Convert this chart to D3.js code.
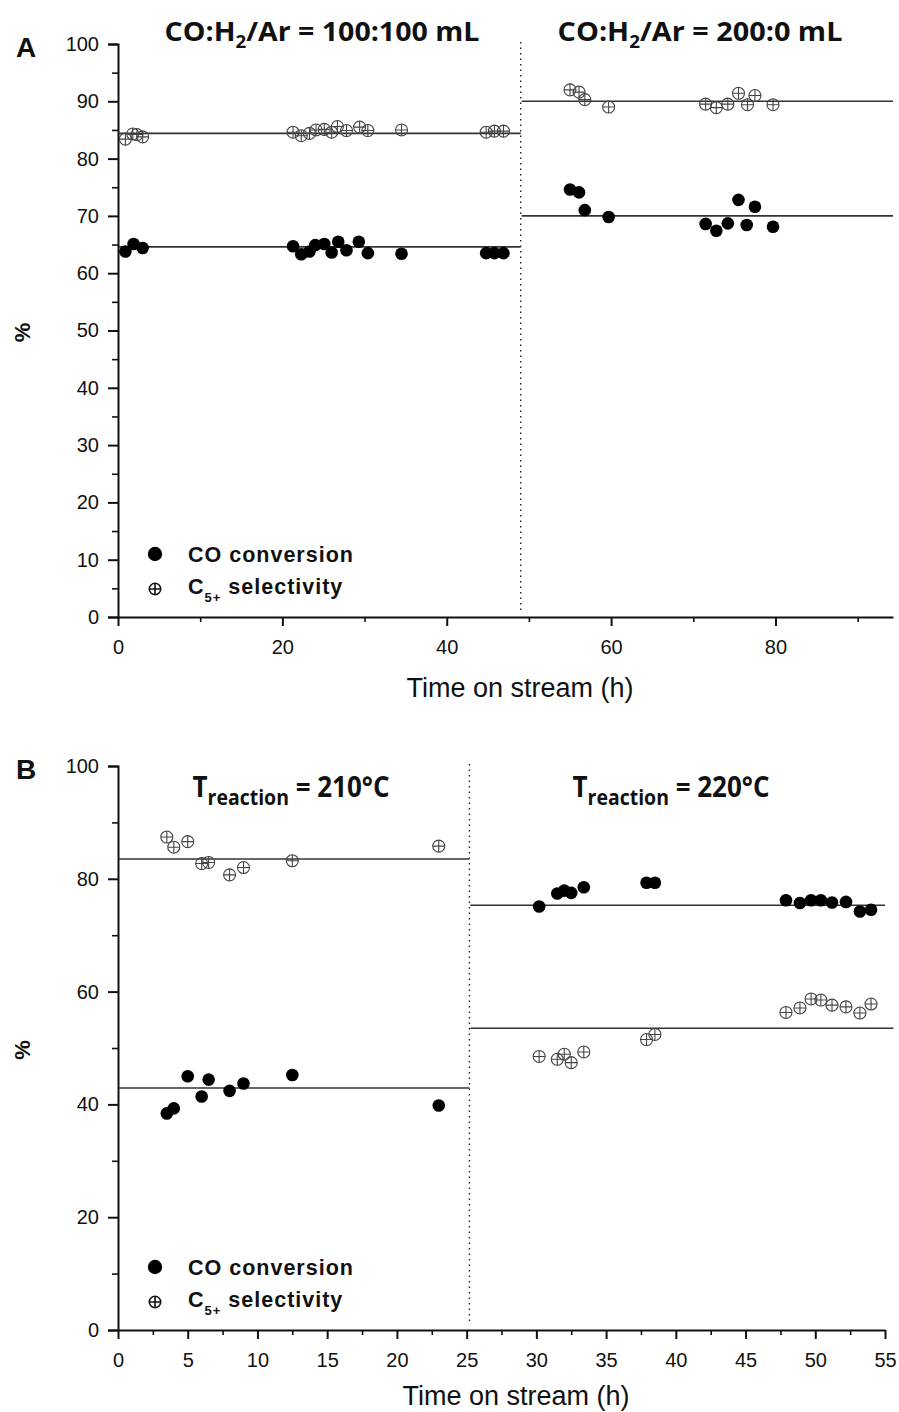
<!DOCTYPE html>
<html lang="en">
<head>
<meta charset="UTF-8">
<title>CO conversion and C5+ selectivity</title>
<script src="https://cdnjs.cloudflare.com/ajax/libs/d3/7.8.4/d3.min.js"></script>
<style>
  body { margin: 0; background: #fff; }
  .tick text { font-family: "Liberation Sans", Arial, sans-serif; font-size: 20px; fill: #111; }
  .axis path, .axis line { stroke: #111; stroke-width: 2; }
  .minor line { stroke: #111; stroke-width: 1.6; }
  .minor path { display: none; }
  .lab { font-family: "Liberation Sans", Arial, sans-serif; fill: #111; }
  .ttl { font-family: "Open Sans", "DejaVu Sans", sans-serif; font-weight: 700; fill: #111; }
</style>
</head>
<body>
<div id="chart"></div>
<script>
// ---- panel A : CO:H2/Ar switch ----
const timeA_co = [0.9, 1.9, 3.0, 21.3, 22.3, 23.3, 24.0, 25.1, 26.0, 26.8, 27.8, 29.3, 30.4, 34.5, 44.8, 45.8, 46.9,
                  55.0, 56.1, 56.8, 59.7, 71.5, 72.8, 74.2, 75.5, 76.5, 77.5, 79.7];
const coA = [63.8, 65.1, 64.4, 64.7, 63.3, 63.8, 64.9, 65.1, 63.6, 65.5, 64.0, 65.5, 63.5, 63.4, 63.5, 63.5, 63.5,
             74.6, 74.1, 71.0, 69.8, 68.6, 67.4, 68.7, 72.8, 68.4, 71.6, 68.1];
const timeA_sel = [0.9, 1.8, 2.3, 3.0, 21.3, 22.3, 23.3, 24.1, 25.1, 26.0, 26.7, 27.8, 29.4, 30.4, 34.5, 44.8, 45.8, 46.9,
                   55.0, 56.1, 56.8, 59.7, 71.5, 72.8, 74.2, 75.5, 76.6, 77.5, 79.7];
const selA = [83.4, 84.3, 84.2, 83.8, 84.6, 84.0, 84.4, 85.0, 85.1, 84.6, 85.6, 84.9, 85.5, 84.9, 85.0, 84.6, 84.8, 84.8,
              92.0, 91.6, 90.3, 89.0, 89.5, 88.9, 89.5, 91.4, 89.4, 91.0, 89.4];
// average levels: [from h, to h, %]
const levelsA = [[0, 49, 64.6], [0, 49, 84.4], [49, 94.3, 70.0], [49, 94.3, 90.0]];
const switchA = 49;
const xTicksA = [0, 20, 40, 60, 80];
const yTicksA = [0, 10, 20, 30, 40, 50, 60, 70, 80, 90, 100];

// ---- panel B : temperature switch ----
const timeB = [3.5, 4.0, 5.0, 6.0, 6.5, 8.0, 9.0, 12.5, 23.0,
               30.2, 31.5, 32.0, 32.5, 33.4, 37.9, 38.5, 47.9, 48.9, 49.7, 50.4, 51.2, 52.2, 53.2, 54.0];
const coB = [38.4, 39.3, 45.0, 41.4, 44.4, 42.4, 43.7, 45.2, 39.8,
             75.1, 77.4, 77.9, 77.5, 78.5, 79.3, 79.3, 76.2, 75.7, 76.2, 76.2, 75.8, 75.9, 74.2, 74.5];
const selB = [87.4, 85.6, 86.6, 82.7, 82.9, 80.7, 82.0, 83.2, 85.8,
              48.5, 48.0, 48.9, 47.4, 49.3, 51.5, 52.4, 56.3, 57.1, 58.7, 58.5, 57.6, 57.3, 56.2, 57.8];
const levelsB = [[0, 25.2, 42.9], [0, 25.2, 83.5], [25.2, 55, 75.3], [25.2, 55.6, 53.5]];
const switchB = 25.2;
const xTicksB = [0, 5, 10, 15, 20, 25, 30, 35, 40, 45, 50, 55];
const yTicksB = [0, 20, 40, 60, 80, 100];

const W = 899, H = 1412;
const svg = d3.select("#chart").append("svg").attr("width", W).attr("height", H);

// squeeze a text horizontally so it spans `width` px, centred on cx
function fit(t, cx, y, width) {
  const w = t.node().getComputedTextLength();
  t.attr("x", 0).attr("y", 0).attr("text-anchor", "middle")
    .attr("transform", `translate(${cx},${y}) scale(${width / w},1)`);
}

function crossCircle(sel, r, color, sw) {
  sel.append("circle").attr("r", r).attr("fill", "none").attr("stroke", color).attr("stroke-width", sw);
  sel.append("path").attr("d", `M${-r},0H${r}M0,${-r}V${r}`).attr("stroke", color).attr("stroke-width", sw);
}

function panel(o) {
  const g = svg.append("g");
  const x = d3.scaleLinear().domain(o.xDom).range([118, o.xEnd]);
  const y = d3.scaleLinear().domain([0, 100]).range([o.bottom, o.top]);

  // minor ticks first
  g.append("g").attr("class", "minor").attr("transform", `translate(0,${o.bottom})`)
    .call(d3.axisBottom(x).tickValues(o.xMinor).tickSize(5).tickFormat(""));
  g.append("g").attr("class", "minor").attr("transform", "translate(118,0)")
    .call(d3.axisLeft(y).tickValues(o.yMinor).tickSize(6).tickFormat(""));

  g.append("g").attr("class", "axis").attr("transform", `translate(0,${o.bottom})`)
    .call(d3.axisBottom(x).tickValues(o.xTicks).tickSize(9).tickSizeOuter(0).tickPadding(14).tickFormat(d3.format("d")));
  g.append("g").attr("class", "axis").attr("transform", "translate(118,0)")
    .call(d3.axisLeft(y).tickValues(o.yTicks).tickSize(10).tickSizeOuter(10).tickPadding(9).tickFormat(d3.format("d")));

  // switch line
  g.append("line").attr("x1", x(o.sw)).attr("x2", x(o.sw))
    .attr("y1", o.top - 2).attr("y2", o.bottom - 5)
    .attr("stroke", "#222").attr("stroke-width", 1.4).attr("stroke-dasharray", "1.5,4");

  // average levels
  g.selectAll(".lvl").data(o.levels).enter().append("line")
    .attr("x1", d => x(d[0]) + 1).attr("x2", d => x(d[1]))
    .attr("y1", d => y(d[2])).attr("y2", d => y(d[2]))
    .attr("stroke", "#333").attr("stroke-width", 1.6);

  // C5+ selectivity : open circle with cross
  const sel = g.selectAll(".sel").data(o.tSel.map((t, i) => [t, o.sel[i]])).enter().append("g")
    .attr("transform", d => `translate(${x(d[0])},${y(d[1])})`);
  crossCircle(sel, 6, "#444", 1.1);

  // CO conversion : filled circle
  g.selectAll(".co").data(o.tCo.map((t, i) => [t, o.co[i]])).enter().append("circle")
    .attr("cx", d => x(d[0])).attr("cy", d => y(d[1])).attr("r", 6.3).attr("fill", "#000");

  // legend
  const lg = g.append("g").attr("transform", `translate(155,${o.bottom - 63})`);
  lg.append("circle").attr("r", 7.2).attr("fill", "#000");
  lg.append("text").attr("class", "lab").attr("x", 33).attr("y", 8).attr("font-size", 21.5)
    .attr("font-weight", 700).attr("letter-spacing", 1).text("CO conversion");
  const l2 = lg.append("g").attr("transform", "translate(0,35)");
  crossCircle(l2, 5.7, "#111", 1.6);
  const t2 = l2.append("text").attr("class", "lab").attr("x", 33).attr("y", 5).attr("font-size", 21.5)
    .attr("font-weight", 700).attr("letter-spacing", 1);
  t2.append("tspan").text("C");
  t2.append("tspan").attr("font-size", 13).attr("dy", 8).text("5+");
  t2.append("tspan").attr("dy", -8).text(" selectivity");

  // axis titles
  g.append("text").attr("class", "lab").attr("x", o.xLabX).attr("y", o.bottom + o.xLabDy).attr("text-anchor", "middle")
    .attr("font-size", 27).text("Time on stream (h)");
  g.append("text").attr("class", "lab").attr("font-weight", 700).attr("font-size", 22)
    .attr("transform", `translate(30,${(o.top + o.bottom) / 2 + 2}) rotate(-90)`).attr("text-anchor", "middle").text("%");
  g.append("text").attr("x", 16).attr("y", o.top + 13).attr("class", "lab")
    .attr("font-weight", 700).attr("font-size", 28).text(o.letter);
  return g;
}

const gA = panel({
  xDom: [0, 94.3], xEnd: 893, top: 44, bottom: 617, sw: switchA, levels: levelsA,
  xTicks: xTicksA, yTicks: yTicksA, xMinor: [10, 30, 50, 70, 90], yMinor: d3.range(5, 100, 10),
  tCo: timeA_co, co: coA, tSel: timeA_sel, sel: selA, letter: "A", xLabX: 520, xLabDy: 80
});
function chemTitle(g, cx, tail, width) {
  const t = g.append("text").attr("class", "ttl").attr("font-size", 26);
  t.append("tspan").text("CO:H");
  t.append("tspan").attr("font-size", 17).attr("dy", 7).text("2");
  t.append("tspan").attr("dy", -7).text("/Ar = " + tail);
  fit(t, cx, 41, width);
}
chemTitle(gA, 322, "100:100 mL", 315);
chemTitle(gA, 700, "200:0 mL", 285);

const gB = panel({
  xDom: [0, 55], xEnd: 885, top: 766, bottom: 1330, sw: switchB, levels: levelsB,
  xTicks: xTicksB, yTicks: yTicksB, xMinor: d3.range(2.5, 55, 5), yMinor: d3.range(10, 100, 20),
  tCo: timeB, co: coB, tSel: timeB, sel: selB, letter: "B", xLabX: 516, xLabDy: 75
});
function tempTitle(g, cx, temp) {
  const t = g.append("text").attr("class", "ttl").attr("font-size", 28);
  t.append("tspan").text("T");
  t.append("tspan").attr("font-size", 21).attr("dy", 8).text("reaction");
  t.append("tspan").attr("dy", -8).text(" = " + temp + "°C");
  fit(t, cx, 797, 197);
}
tempTitle(gB, 291, 210);
tempTitle(gB, 671, 220);
</script>
</body>
</html>
